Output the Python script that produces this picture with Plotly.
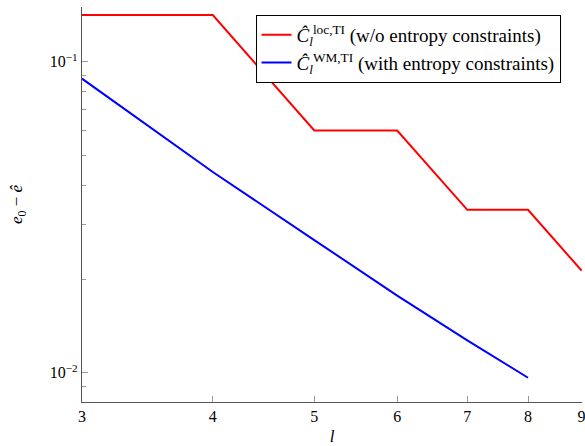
import plotly.graph_objects as go
import math

l_red = [3, 4, 5, 6, 7, 8, 9]
err_red = [0.1413, 0.1413, 0.0601, 0.0601, 0.0334, 0.0334, 0.0213]
l_blue = [3, 4, 5, 6, 7, 8]
err_blue = [0.0882, 0.0442, 0.0267, 0.0177, 0.0127, 0.00963]

name_red = "<i>Ĉ</i><sub><i>l</i></sub><sup>loc,TI</sup> (w/o entropy constraints)"
name_blue = "<i>Ĉ</i><sub><i>l</i></sub><sup>WM,TI</sup> (with entropy constraints)"

font = "Liberation Serif"
axcol = "#555555"

fig = go.Figure()
fig.add_trace(go.Scatter(x=l_red, y=err_red, mode="lines", name=name_red,
                         line=dict(color="#ff0000", width=2)))
fig.add_trace(go.Scatter(x=l_blue, y=err_blue, mode="lines", name=name_blue,
                         line=dict(color="#0000ff", width=2)))

fig.update_layout(
    width=585, height=446,
    margin=dict(l=82, r=3, t=7, b=44, autoexpand=False),
    paper_bgcolor="white", plot_bgcolor="white",
    font=dict(family=font, size=16, color="black"),
    showlegend=True,
    legend=dict(x=0.347, y=0.98, xanchor="left", yanchor="top",
                bordercolor="black", borderwidth=1, bgcolor="white",
                font=dict(family=font, size=19), tracegroupgap=0,
                itemwidth=30),
    xaxis=dict(type="log", range=[math.log10(3), math.log10(9) + 0.0004],
               tickmode="array", tickvals=[3, 4, 5, 6, 7, 8, 9],
               ticktext=["3", "4", "5", "6", "7", "8", "9"],
               ticklabeloverflow="allow", automargin=False,
               ticks="inside", ticklen=6, tickcolor="#999999",
               showline=True, linecolor=axcol, linewidth=1.2,
               showgrid=False, zeroline=False,
               title=dict(text="<i>l</i>", standoff=6, font=dict(size=17))),
    yaxis=dict(type="log", range=[-2.0943, -0.824], automargin=False,
               tickmode="array", tickvals=[0.01, 0.1],
               ticktext=["10<sup>−2</sup>", "10<sup>−1</sup>"],
               ticks="inside", ticklen=6, tickcolor="#999999",
               minor=dict(tickmode="array",
                          tickvals=[0.009, 0.02, 0.03, 0.04, 0.05, 0.06, 0.07, 0.08, 0.09],
                          ticks="inside", ticklen=4, tickcolor="#999999", showgrid=False),
               showline=True, linecolor=axcol, linewidth=1.2,
               showgrid=False, zeroline=False,
               title=dict(text="<i>e</i><sub>0</sub> − <i>ê</i>", standoff=22, font=dict(size=17))),
)

fig.write_html("out.html", config={"displayModeBar": False},
               post_script="document.body.style.margin='0px';document.body.style.overflow='hidden';")
